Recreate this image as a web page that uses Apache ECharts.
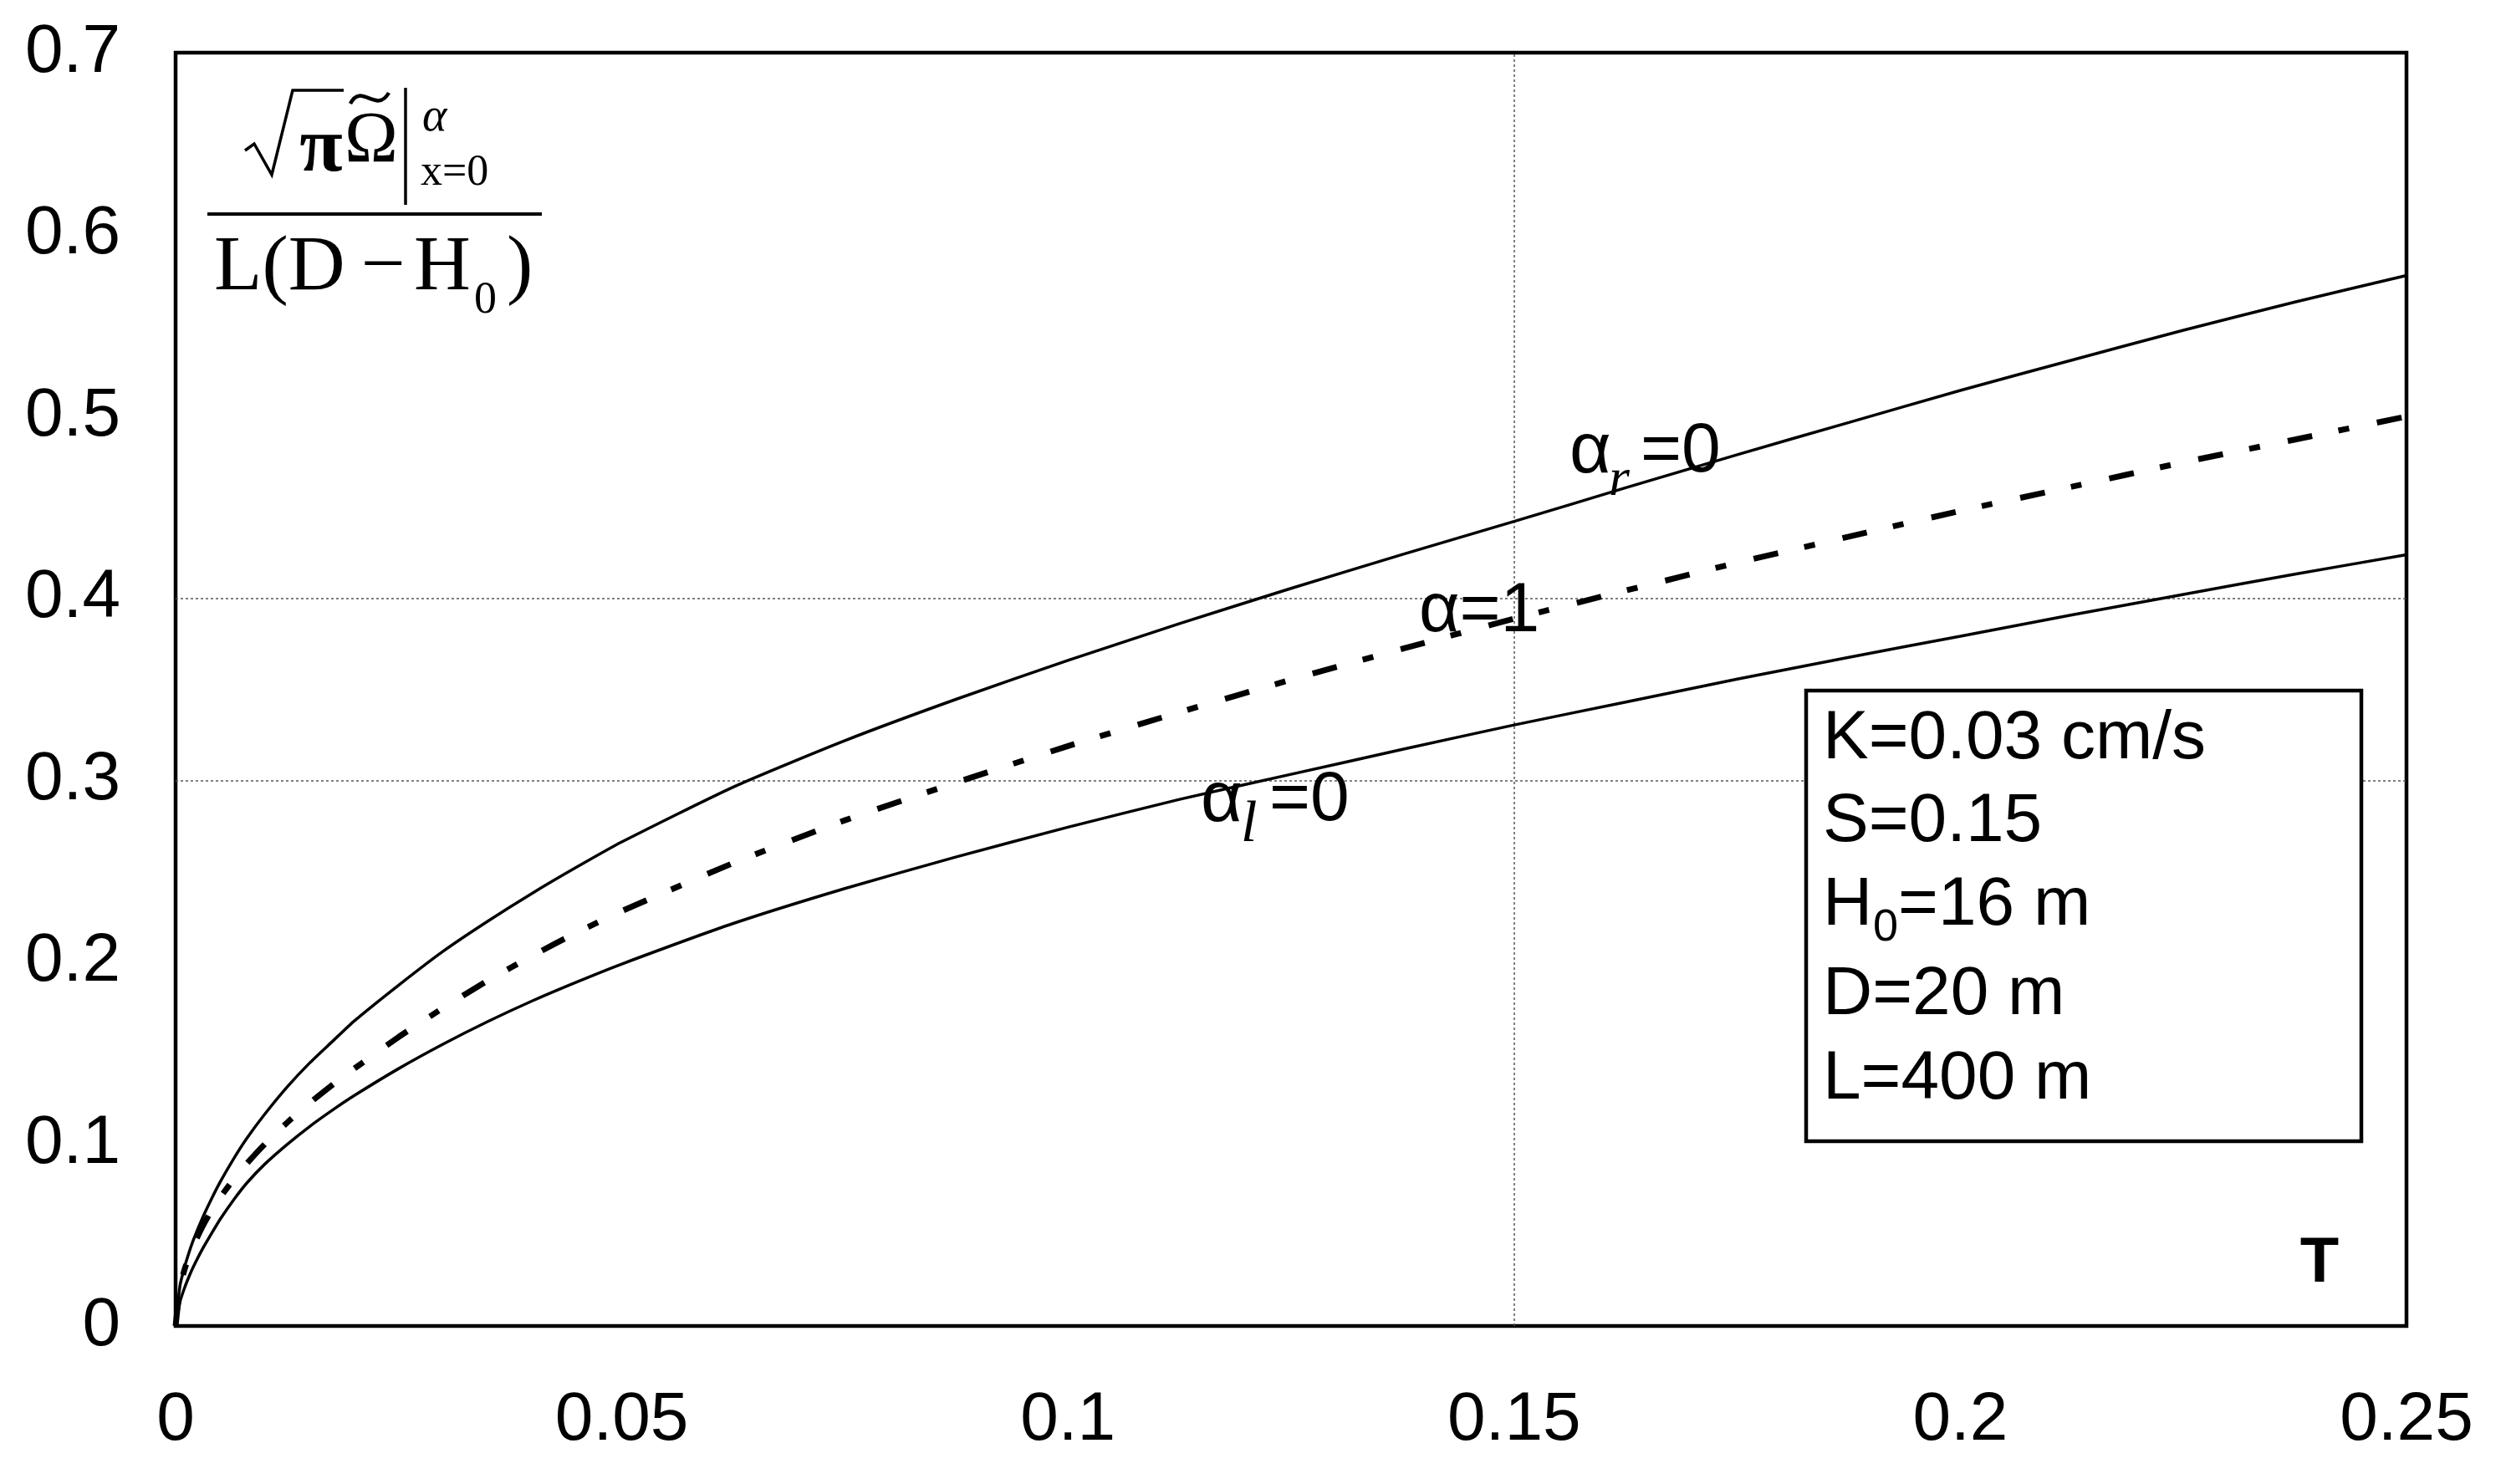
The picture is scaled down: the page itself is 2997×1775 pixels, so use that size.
<!DOCTYPE html>
<html>
<head>
<meta charset="utf-8">
<script src="https://cdn.jsdelivr.net/npm/echarts@6/dist/echarts.min.js"></script>
<style>
html,body{margin:0;padding:0;background:#fff;}
#chart{width:2997px;height:1775px;}
</style>
</head>
<body>
<div id="chart"></div>
<script>
// ---- data ----
const T = [0, 0.0005, 0.001, 0.0015, 0.002, 0.003, 0.004, 0.005, 0.0065, 0.008, 0.01, 0.0125, 0.015, 0.0175, 0.02, 0.025, 0.03, 0.035, 0.04, 0.045, 0.05, 0.0625, 0.075, 0.0875, 0.1, 0.1125, 0.125, 0.1375, 0.15, 0.1625, 0.175, 0.1875, 0.2, 0.2125, 0.225, 0.2375, 0.25];
const alphaR0 = [0, 0.0224, 0.0323, 0.0403, 0.0474, 0.0592, 0.0696, 0.0792, 0.0919, 0.1033, 0.1165, 0.1314, 0.1445, 0.1561, 0.1676, 0.1874, 0.2061, 0.2226, 0.2380, 0.2524, 0.2661, 0.2963, 0.3218, 0.3446, 0.3659, 0.3861, 0.4055, 0.4242, 0.4423, 0.4608, 0.4790, 0.4967, 0.5143, 0.5310, 0.5474, 0.5629, 0.5775];
const alpha1  = [0, 0.0217, 0.0310, 0.0381, 0.0443, 0.0545, 0.0633, 0.0707, 0.0806, 0.0894, 0.1000, 0.1118, 0.1225, 0.1323, 0.1414, 0.1589, 0.1749, 0.1899, 0.2036, 0.2164, 0.2281, 0.2545, 0.2780, 0.2988, 0.3188, 0.3374, 0.3553, 0.3723, 0.3888, 0.4043, 0.4196, 0.4339, 0.4481, 0.4614, 0.4748, 0.4873, 0.5000];
const alphaL0 = [0, 0.0134, 0.0209, 0.0271, 0.0326, 0.0422, 0.0506, 0.0587, 0.0693, 0.0787, 0.0890, 0.0998, 0.1096, 0.1184, 0.1266, 0.1415, 0.1550, 0.1674, 0.1788, 0.1892, 0.1990, 0.2213, 0.2405, 0.2579, 0.2742, 0.2895, 0.3033, 0.3170, 0.3304, 0.3430, 0.3556, 0.3676, 0.3792, 0.3909, 0.4022, 0.4133, 0.4240];
const xTicks = [0, 0.05, 0.1, 0.15, 0.2, 0.25];
const yTicks = [0, 0.1, 0.2, 0.3, 0.4, 0.5, 0.6, 0.7];
const gridY = [0.3, 0.4];
const gridX = [0.15];
const params = ['K=0.03 cm/s', 'S=0.15', 'H|0|=16 m', 'D=20 m', 'L=400 m'];

const pairs = (xs, ys) => xs.map((x, i) => [x, ys[i]]);

const chart = echarts.init(document.getElementById('chart'), null, {renderer: 'canvas'});
const SANS = '"Liberation Sans", Arial, sans-serif';
const SERIF = '"Liberation Serif", "Times New Roman", serif';

function t2(text, x, y, size, opts) {
  opts = opts || {};
  return {
    type: 'text', z: 100, x: 0, y: 0,
    style: {
      text: text, x: x, y: y, fill: '#000',
      fontSize: size, fontFamily: opts.family || SANS,
      fontStyle: opts.style || 'normal', fontWeight: opts.weight || 'normal',
      align: opts.align || 'left', verticalAlign: 'middle'
    }
  };
}

const graphics = [];
// formula (top-left)
graphics.push({type: 'polyline', z: 100, shape: {points: [[293,180],[304,172],[325,209],[350,108],[411,108]]}, style: {stroke: '#000', lineWidth: 3.5, fill: null}});
graphics.push(t2('π', 384, 180, 94, {family: SERIF, align: 'center', weight: 'bold'}));
graphics.push(t2('Ω', 444, 170, 86, {family: SERIF, align: 'center'}));
graphics.push({type: 'bezierCurve', z: 100, shape: {x1: 419, y1: 124, cpx1: 432, cpy1: 98, cpx2: 450, cpy2: 137, x2: 465, y2: 111}, style: {stroke: '#000', lineWidth: 4.5, fill: null}});
graphics.push({type: 'line', z: 100, shape: {x1: 485, y1: 105, x2: 485, y2: 245}, style: {stroke: '#000', lineWidth: 3.5}});
graphics.push(t2('α', 505, 141, 56, {family: SERIF, style: 'italic'}));
graphics.push(t2('x=0', 503, 207, 52, {family: SERIF}));
graphics.push({type: 'line', z: 100, shape: {x1: 248, y1: 256, x2: 648, y2: 256}, style: {stroke: '#000', lineWidth: 4}});
graphics.push(t2('L(D', 256, 321, 94, {family: SERIF}));
graphics.push(t2('−', 458, 321, 94, {family: SERIF, align: 'center'}));
graphics.push(t2('H', 495, 321, 94, {family: SERIF}));
graphics.push(t2('0', 567, 360, 54, {family: SERIF}));
graphics.push(t2(')', 606, 321, 94, {family: SERIF}));

// curve labels
graphics.push(t2('α', 1877, 541, 86));
graphics.push(t2('r', 1924, 575, 64, {family: SERIF, style: 'italic'}));
graphics.push(t2('=0', 1962, 541, 84));
graphics.push(t2('α=1', 1697, 732, 84));
graphics.push(t2('α', 1436, 958, 86));
graphics.push(t2('l', 1484, 988, 70, {family: SERIF, style: 'italic'}));
graphics.push(t2('=0', 1518, 958, 84));

// parameter box
graphics.push({type: 'rect', z: 90, shape: {x: 2160, y: 826, width: 664, height: 539}, style: {stroke: '#000', lineWidth: 4.5, fill: '#fff'}});
const baseY = [884, 983, 1083, 1190, 1291];
params.forEach((p, i) => {
  const parts = p.split('|');
  if (parts.length === 1) {
    graphics.push(t2(p, 2180, baseY[i], 82));
  } else {
    graphics.push(t2(parts[0], 2180, baseY[i], 82));
    graphics.push(t2(parts[1], 2240, baseY[i] + 27, 54));
    graphics.push(t2(parts[2], 2270, baseY[i], 82));
  }
});
// axis name T
graphics.push(t2('T', 2774, 1512, 76, {weight: 'bold', align: 'center'}));

const gridLineStyle = {color: '#555', width: 1.5, type: [3, 3]};

const option = {
  backgroundColor: '#fff',
  animation: false,
  grid: {left: 210, right: 119, top: 63, bottom: 189, show: true, borderColor: '#000', borderWidth: 4.5, backgroundColor: 'transparent'},
  xAxis: {
    type: 'value', min: 0, max: 0.25, interval: 0.05,
    axisLine: {show: false}, axisTick: {show: false}, splitLine: {show: false},
    axisLabel: {fontSize: 82, fontFamily: SANS, color: '#000', margin: 72,
      formatter: v => { const m = xTicks.find(t => Math.abs(t - v) < 1e-9); return m === undefined ? '' : String(m); }}
  },
  yAxis: {
    type: 'value', min: 0, max: 0.7, interval: 0.1,
    axisLine: {show: false}, axisTick: {show: false}, splitLine: {show: false},
    axisLabel: {fontSize: 82, fontFamily: SANS, color: '#000', margin: 66,
      formatter: v => { const m = yTicks.find(t => Math.abs(t - v) < 1e-9); return m === undefined ? '' : String(m); }}
  },
  graphic: graphics,
  series: [
    {
      name: 'grid', type: 'line', data: [], silent: true,
      markLine: {
        silent: true, symbol: ['none', 'none'], label: {show: false},
        lineStyle: gridLineStyle,
        data: gridY.map(v => ({yAxis: v})).concat(gridX.map(v => ({xAxis: v})))
      }
    },
    {name: 'αr=0', type: 'line', data: pairs(T, alphaR0), showSymbol: false, smooth: 0.2,
      lineStyle: {color: '#000', width: 3.5}, z: 5},
    {name: 'α=1', type: 'line', data: pairs(T, alpha1), showSymbol: false, smooth: 0.2,
      lineStyle: {color: '#000', width: 7, type: [30, 32, 13, 34], cap: 'butt'}, z: 5},
    {name: 'αl=0', type: 'line', data: pairs(T, alphaL0), showSymbol: false, smooth: 0.2,
      lineStyle: {color: '#000', width: 3.5}, z: 5}
  ]
};
chart.setOption(option);
</script>
</body>
</html>
